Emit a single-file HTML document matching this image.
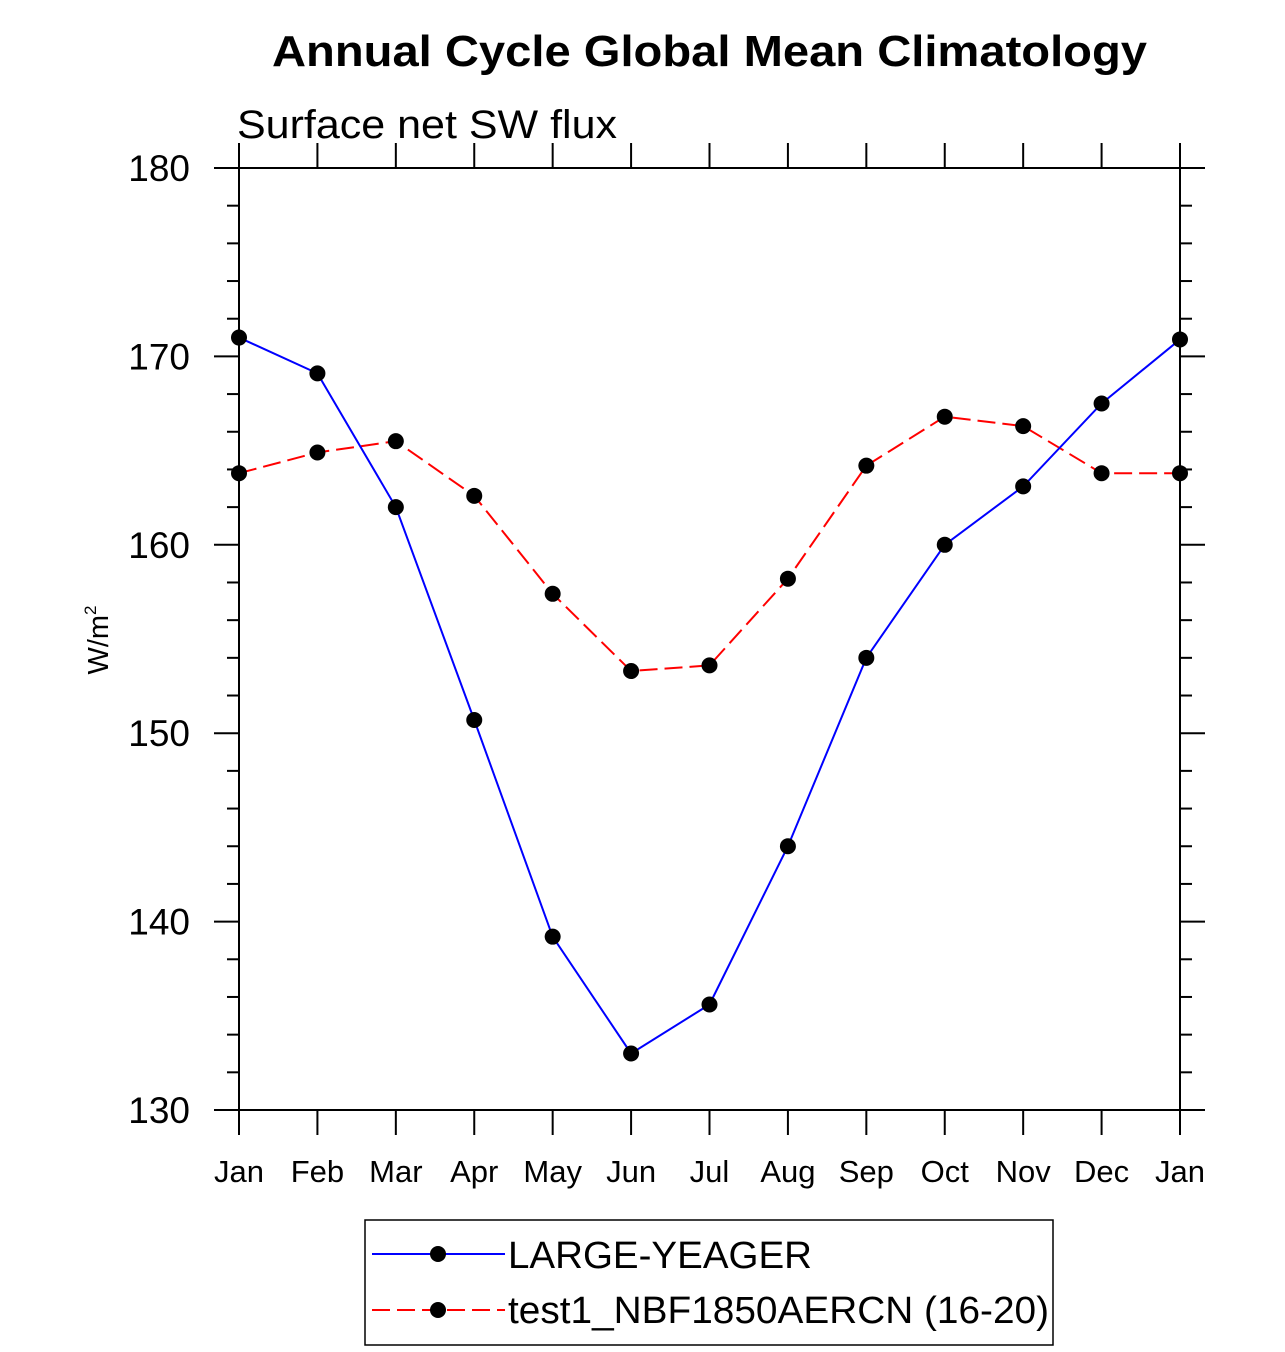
<!DOCTYPE html>
<html><head><meta charset="utf-8"><style>
html,body{margin:0;padding:0;background:#fff;}
svg{display:block;font-family:"Liberation Sans",sans-serif;}
</style></head><body>
<svg id="chart" width="1285" height="1352" viewBox="0 0 1285 1352">
<text x="272" y="66" font-size="44" font-weight="bold" textLength="875" lengthAdjust="spacingAndGlyphs">Annual Cycle Global Mean Climatology</text>
<text x="237" y="138" font-size="40" textLength="380" lengthAdjust="spacingAndGlyphs">Surface net SW flux</text>
<text transform="translate(108,640) rotate(-90)" text-anchor="middle" font-size="29">W/m<tspan font-size="17" dy="-12">2</tspan></text>
<g id="axes"></g>
<g id="series"></g>
<g>
<rect x="365" y="1220" width="688" height="125" fill="none" stroke="#000" stroke-width="1.5"/>
<g>
<line x1="372" y1="1254" x2="505" y2="1254" stroke="#0000ff" stroke-width="2"/>
<circle cx="438" cy="1254" r="8" fill="#000"/>
<text x="508" y="1268" font-size="38" textLength="304" lengthAdjust="spacingAndGlyphs">LARGE-YEAGER</text>
</g>
<g>
<line x1="372" y1="1310" x2="505" y2="1310" stroke="#ff0000" stroke-width="2" stroke-dasharray="18,7"/>
<circle cx="438" cy="1310" r="8" fill="#000"/>
<text x="508" y="1323" font-size="38" textLength="541" lengthAdjust="spacingAndGlyphs">test1_NBF1850AERCN (16-20)</text>
</g>
</g>
</svg>
<script>
const months = ["Jan","Feb","Mar","Apr","May","Jun","Jul","Aug","Sep","Oct","Nov","Dec","Jan"];
const largeYeager = [171.0,169.1,162.0,150.7,139.2,133.0,135.6,144.0,154.0,160.0,163.1,167.5,170.9];
const test1 = [163.8,164.9,165.5,162.6,157.4,153.3,153.6,158.2,164.2,166.8,166.3,163.8,163.8];
const yTicks = [130,140,150,160,170,180];

const NS="http://www.w3.org/2000/svg";
const L=239,R=1180,T=168,B=1110,yMin=130,yMax=180;
const xs=i=>L+(R-L)*i/(months.length-1);
const ys=v=>B-(v-yMin)/(yMax-yMin)*(B-T);
function mk(tag,attrs,parent){const e=document.createElementNS(NS,tag);for(const k in attrs)e.setAttribute(k,attrs[k]);parent.appendChild(e);return e;}
const ax=document.getElementById('axes');
const frame=mk('rect',{x:L,y:T,width:R-L,height:B-T,fill:'none',stroke:'#000','stroke-width':2},ax);


months.forEach((m,i)=>{
  const x=xs(i);
  mk('line',{x1:x,y1:B,x2:x,y2:B+25,stroke:'#000','stroke-width':2},ax);
  mk('line',{x1:x,y1:T,x2:x,y2:T-25,stroke:'#000','stroke-width':2},ax);
  const t=mk('text',{x:x,y:B+72,'text-anchor':'middle','font-size':31},ax);
  t.textContent=m;
  
  
});
for(let v=yMin;v<=yMax;v+=2){
  const y=ys(v);const major=(v%10===0);const len=major?25:12;
  mk('line',{x1:L-len,y1:y,x2:L,y2:y,stroke:'#000','stroke-width':2},ax);
  mk('line',{x1:R,y1:y,x2:R+len,y2:y,stroke:'#000','stroke-width':2},ax);
}
yTicks.forEach(v=>{
  const t=mk('text',{x:190,y:ys(v)+13,'text-anchor':'end','font-size':37},ax);
  t.textContent=v;
  
  
});
const sg=document.getElementById('series');
function drawSeries(vals,color,dash,name){
  const g=mk('g',{},sg);
  
  
  const pts=vals.map((v,i)=>xs(i)+','+ys(v)).join(' ');
  const a={points:pts,fill:'none',stroke:color,'stroke-width':2};
  if(dash)a['stroke-dasharray']=dash;
  mk('polyline',a,g);
  vals.forEach((v,i)=>{
    const c=mk('circle',{cx:xs(i),cy:ys(v),r:8,fill:'#000'},g);
    
    
  });
}
drawSeries(test1,'#ff0000','18,7','series-test1');
drawSeries(largeYeager,'#0000ff',null,'series-large-yeager');
</script>
</body></html>
